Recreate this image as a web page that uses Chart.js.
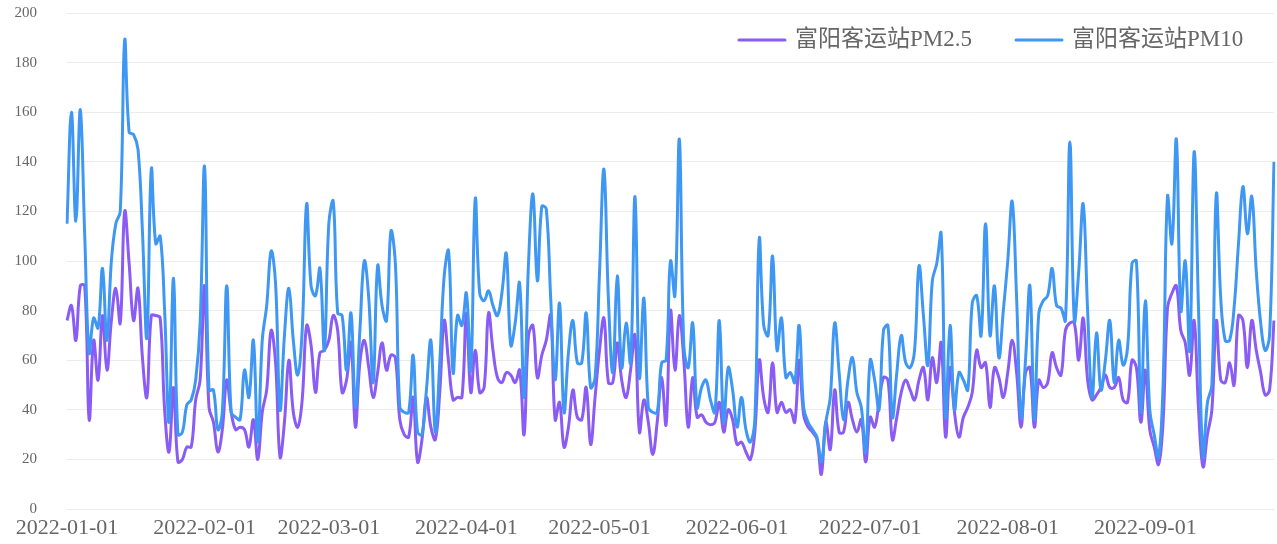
<!DOCTYPE html>
<html><head><meta charset="utf-8">
<script src="https://cdn.jsdelivr.net/npm/chart.js@4.4.1/dist/chart.umd.min.js"></script>
<style>html,body{margin:0;padding:0;background:#fff;} #wrap{width:1277px;height:544px;position:relative;}</style>
</head><body><div id="wrap"><canvas id="c"></canvas></div>
<script>
const startDate = [2022, 0, 1];
const dayCount = 273;
const monthTicks = ['2022-01-01','2022-02-01','2022-03-01','2022-04-01','2022-05-01','2022-06-01','2022-07-01','2022-08-01','2022-09-01'];
const seriesNames = ['富阳客运站PM2.5', '富阳客运站PM10'];
const seriesColors = ['#8a5cf5', '#3f97f4'];
const yMin = 0, yMax = 200, yStep = 20;

const pm25 = [
76,82,68,90,90,36,68,52,78,56,
76,89,75,120,99,76,89,61,45,78,
78,77,40,23,49,19,20,25,25,44,
52,90,41,35,23,32,52,39,32,33,
32,25,36,20,39,48,72,59,21,35,
60,39,33,44,74,66,47,63,64,68,
78,72,47,52,67,33,59,68,57,45,
55,67,56,62,61,36,30,29,45,19,
28,45,33,28,47,76,59,44,45,45,
79,47,64,47,49,79,64,53,51,55,
54,51,56,30,70,74,53,62,68,78,
36,43,25,33,48,37,36,49,26,45,
64,77,51,51,67,52,45,56,70,31,
44,35,22,35,53,34,80,56,78,60,
33,53,37,38,35,34,35,43,31,40,
36,26,27,23,20,31,60,45,39,59,
39,43,39,40,35,60,38,33,31,28,
14,35,24,48,31,31,43,36,31,36,
19,37,33,43,53,52,28,37,47,52,
48,44,52,57,44,61,51,67,29,57,
39,29,37,41,47,64,57,59,41,57,
53,45,55,68,55,33,55,57,33,52,
49,51,63,57,54,72,75,75,60,77,
52,44,46,49,54,49,49,53,44,43,
60,57,35,56,32,25,18,35,81,87,
90,72,67,54,76,40,17,30,40,76,
52,51,59,50,78,76,57,76,64,55,
46,48,76
];

const pm10 = [
115,160,116,161,110,63,77,73,97,68,
100,115,120,189,152,151,145,112,69,137,
107,110,80,35,93,30,31,42,44,52,
75,138,48,48,32,39,90,39,37,36,
56,45,68,27,68,82,104,91,40,70,
89,68,54,72,123,90,86,97,64,115,
124,79,78,56,79,41,72,100,85,51,
98,82,76,112,99,41,39,39,62,31,
30,48,68,31,59,94,104,55,78,74,
87,56,125,87,84,88,82,78,87,103,
66,75,91,45,99,127,92,122,121,85,
52,83,39,63,76,59,59,79,49,53,
95,137,85,55,94,57,75,59,126,53,
85,41,39,39,59,60,100,86,149,66,
57,75,41,49,52,44,39,76,35,57,
48,33,45,32,27,36,109,74,70,102,
64,77,53,55,51,74,41,35,32,29,
19,35,45,75,55,36,52,61,47,41,
23,60,52,40,72,74,37,55,70,59,
57,64,98,78,58,92,99,111,37,74,
40,55,52,48,83,86,70,115,70,90,
61,80,100,124,85,37,60,90,36,79,
84,86,97,82,81,76,148,76,96,123,
80,45,71,48,60,76,51,68,58,65,
99,100,39,84,40,30,21,50,126,107,
149,80,100,64,144,80,21,43,50,127,
85,68,68,81,107,130,111,126,96,75,
64,70,140
];

function buildDates() {
  const out = [];
  const d = new Date(Date.UTC(startDate[0], startDate[1], startDate[2]));
  for (let i = 0; i < dayCount; i++) {
    out.push(d.toISOString().slice(0, 10));
    d.setUTCDate(d.getUTCDate() + 1);
  }
  return out;
}
const dates = buildDates();

const FONT = '"Liberation Serif", "Noto Sans CJK SC", serif';
const TEXT = '#666666';
const GRID = '#ececec';

const legendPlugin = {
  id: 'customLegend',
  afterDraw(chart) {
    const ctx = chart.ctx;
    ctx.save();
    ctx.font = '23px ' + FONT;
    ctx.textBaseline = 'middle';
    ctx.textAlign = 'left';
    let x = 737;
    const y = 40;
    chart.data.datasets.forEach(ds => {
      ctx.strokeStyle = ds.borderColor;
      ctx.lineWidth = 3;
      ctx.lineCap = 'round';
      ctx.beginPath();
      ctx.moveTo(x + 2, y);
      ctx.lineTo(x + 48, y);
      ctx.stroke();
      ctx.fillStyle = TEXT;
      ctx.fillText(ds.label, x + 58, y);
      x += 58 + ctx.measureText(ds.label).width + 42;
    });
    ctx.restore();
  }
};

new Chart(document.getElementById('c'), {
  type: 'line',
  data: {
    labels: dates,
    datasets: [
      { label: seriesNames[0], data: pm25, borderColor: seriesColors[0], backgroundColor: seriesColors[0],
        borderWidth: 3, pointRadius: 0, tension: 0.4, order: 1 },
      { label: seriesNames[1], data: pm10, borderColor: seriesColors[1], backgroundColor: seriesColors[1],
        borderWidth: 3, pointRadius: 0, tension: 0.4, order: 0 }
    ]
  },
  options: {
    responsive: true,
    maintainAspectRatio: false,
    animation: false,
    layout: { padding: { top: 13, right: 3, left: 0, bottom: 0 } },
    plugins: { legend: { display: false }, tooltip: { enabled: false } },
    scales: {
      x: {
        type: 'category',
        grid: { display: false, drawTicks: false },
        border: { display: true, color: GRID },
        ticks: {
          autoSkip: false, maxRotation: 0, minRotation: 0, padding: 6,
          color: TEXT, font: { family: FONT, size: 22 },
          callback: function (v, i) { return monthTicks.includes(dates[i]) ? dates[i] : null; }
        },
        afterFit: s => { s.height = 35; s.paddingLeft = 0; s.paddingRight = 0; }
      },
      y: {
        min: yMin, max: yMax,
        grid: { color: GRID, drawTicks: false, lineWidth: 1 },
        border: { display: false },
        ticks: { stepSize: yStep, padding: 30, color: TEXT, font: { family: FONT, size: 15 } },
        afterFit: s => { s.width = 67; s.paddingTop = 0; s.paddingBottom = 0; }
      }
    }
  },
  plugins: [legendPlugin]
});
</script>
</body></html>
